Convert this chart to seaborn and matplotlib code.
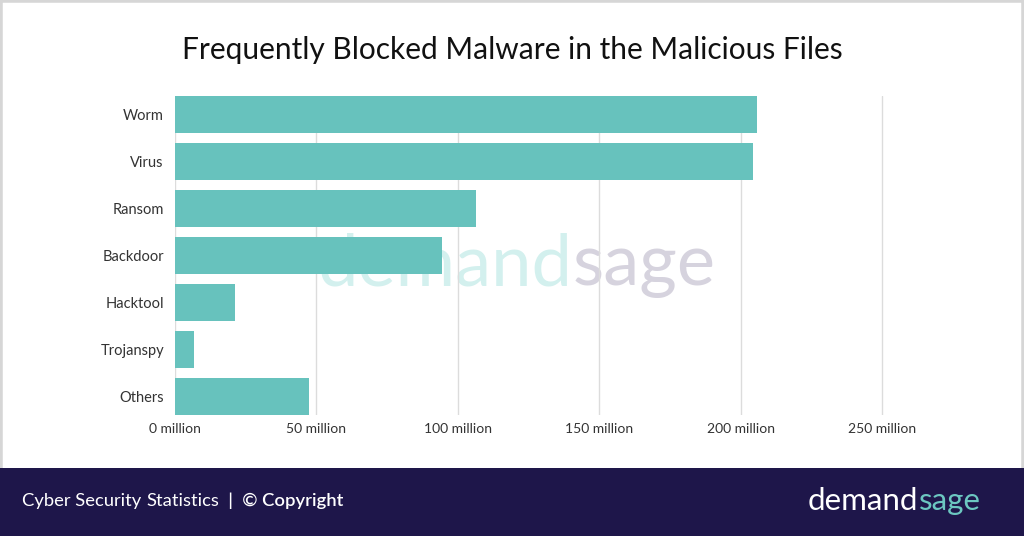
import matplotlib
matplotlib.use("Agg")
import matplotlib.pyplot as plt
import seaborn as sns
from matplotlib.patches import Rectangle

categories = ["Worm", "Virus", "Ransom", "Backdoor", "Hacktool", "Trojanspy", "Others"]
values = [205.9, 204.4, 106.3, 94.4, 21.2, 6.8, 47.5]
xticks = [0, 50, 100, 150, 200, 250]
xtick_labels = [f"{v} million" for v in xticks]
title = "Frequently Blocked Malware in the Malicious Files"

BAR = "#67c2bd"
NAVY = "#1e164a"
FONT = ["Lato", "DejaVu Sans"]

sns.set_theme(style="white")
plt.rcParams["font.family"] = FONT

W, H = 1024, 536
fig = plt.figure(figsize=(W / 100, H / 100), dpi=100)
fig.patch.set_facecolor("white")

# frame and footer
fig.patches.append(Rectangle((0, 0), 1, 1, transform=fig.transFigure,
                             facecolor="white", edgecolor="#d6d6d6", linewidth=4, zorder=-2))
fig.patches.append(Rectangle((0, 0), 1, 68 / H, transform=fig.transFigure,
                             facecolor=NAVY, edgecolor="none", zorder=-1))

ax = fig.add_axes([175 / W, 1 - 415 / H, (916 - 175) / W, (415 - 96) / H])
ax.set_zorder(1)
ax.set_facecolor("none")
sns.barplot(x=values, y=categories, orient="h", color=BAR, saturation=1,
            width=0.78, ax=ax, zorder=3, edgecolor="none")
ax.set_xlim(0, 262)
ax.set_ylim(6.39, -0.39)
ax.set_xticks(xticks)
ax.set_xticklabels(xtick_labels)
ax.grid(axis="x", color="#dcdcdc", linewidth=1, zorder=0)
ax.grid(axis="y", visible=False)
ax.set_axisbelow(True)
for s in ax.spines.values():
    s.set_visible(False)
ax.tick_params(axis="both", length=0, labelcolor="#333333")
ax.tick_params(axis="y", pad=8, labelsize=10.5)
ax.tick_params(axis="x", pad=6, labelsize=10)
ax.set_xlabel("")
ax.set_ylabel("")

fig.text(0.5, 1 - 50 / H, title, ha="center", va="center", fontsize=21.5,
         color="#111111", family=FONT)

fig.canvas.draw()
renderer = fig.canvas.get_renderer()


def seq_text(x_px, y_px, parts, **kw):
    x = x_px
    for s, props in parts:
        t = fig.text(x / W, 1 - y_px / H, s, ha="left", va="center", **kw, **props)
        bb = t.get_window_extent(renderer=renderer)
        x += bb.width
    return x


# watermark (behind the bars)
seq_text(318, 265, [("demand", dict(color="#d3f0ee")), ("sage", dict(color="#d6d3de"))],
         fontsize=52, zorder=0.5, family=FONT)

# footer
seq_text(22, 501, [("Cyber Security ", dict(color="white", fontweight="normal")),
                   ("Statistics", dict(color="white", fontweight="normal")),
                   ("  |  © Copyright", dict(color="white", fontweight="semibold"))],
         fontsize=13.2, zorder=5, family=FONT)
seq_text(808, 501, [("demand", dict(color="white")), ("sage", dict(color="#6cc7c1"))],
         fontsize=22.5, zorder=5, family=FONT)

fig.savefig("out.png", dpi=100, facecolor=fig.get_facecolor())
